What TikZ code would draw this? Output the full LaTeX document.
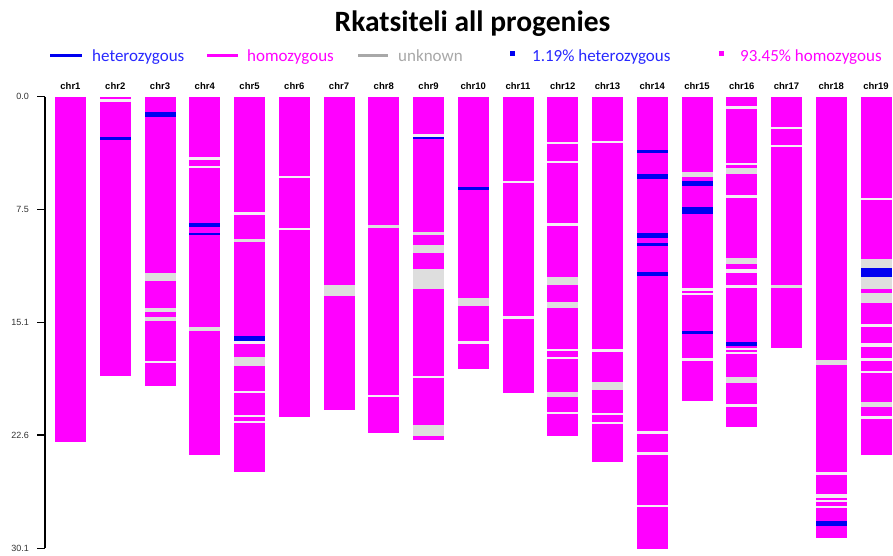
\documentclass[tikz,border=0pt]{standalone}
\usepackage{fontspec}
\setmainfont{Carlito}
\newfontfamily\chrfont{Liberation Sans}

\definecolor{homcol}{HTML}{FF00FF}
\definecolor{hetcol}{HTML}{0000F0}
\definecolor{hettxt}{HTML}{2828FF}
\definecolor{unkcol}{HTML}{DEDEDE}
\definecolor{unktxt}{HTML}{A8A8A8}
\definecolor{sepcol}{HTML}{F4EEF4}
\definecolor{axcol}{HTML}{333333}

\tikzset{
    hom/.style={fill=homcol},
    het/.style={fill=hetcol},
    unk/.style={fill=unkcol},
    sep/.style={fill=sepcol},
    chrlab/.style={
        font=\chrfont\bfseries\fontsize{9.5}{10}\selectfont,
        anchor=base,
        inner sep=0pt
    },
    ticklab/.style={
        font=\chrfont\fontsize{9}{10}\selectfont,
        text=axcol,
        anchor=east,
        inner sep=0pt
    },
    legtxt/.style={
        font=\fontsize{17}{18}\selectfont,
        anchor=base west,
        inner sep=0pt
    }
}

% one bar per chromosome, 0.0 at y=97
\newcommand{\chrbar}[2]{\fill[hom] ({55+(#1-1)*44.75},97) rectangle ({86+(#1-1)*44.75},#2);}
\newcommand{\chrband}[4]{\fill[#4] ({55+(#1-1)*44.75},#2) rectangle ({86+(#1-1)*44.75},#3);}

\begin{document}
\begin{tikzpicture}[x=1pt,y=-1pt]
\useasboundingbox[fill=white] (0,0) rectangle (893,555);

\node[font=\bfseries\fontsize{29.5}{30}\selectfont, anchor=base, inner sep=0pt]
    (title) at (472.5,31.7) {Rkatsiteli all progenies};

% legend
\draw[hetcol, line width=3pt] (50,55) -- (82,55);
\node[legtxt, text=hettxt] (lhet) at (92,61) {heterozygous};
\draw[homcol, line width=3pt] (207,55) -- (238,55);
\node[legtxt, text=homcol] (lhom) at (247,61) {homozygous};
\draw[unktxt, line width=3pt] (358,55) -- (388,55);
\node[legtxt, text=unktxt] (lunk) at (398,61) {unknown};
\fill[hetcol] (510,51) rectangle ++(5,5);
\node[legtxt, text=hettxt] (phet) at (532,61) {1.19\% heterozygous};
\fill[homcol] (719,51) rectangle ++(5,5);
\node[legtxt, text=homcol] (phom) at (740,61) {93.45\% homozygous};

% axis
\draw[line width=1.3pt] (45,96.7) -- (45,548.3);
\foreach \v/\yy in {0.0/96.7, 7.5/209.4, 15.1/322.3, 22.6/435.1, 30.1/548.3}{
    \draw[line width=1.3pt] (37,\yy) -- (45,\yy);
    \node[ticklab] at (29,\yy) {\v};
}

\foreach \i in {1,...,19}
    \node[chrlab] (chr\i) at ({70.5+(\i-1)*44.75},89.5) {chr\i};

% chr1
\chrbar{1}{441.7}
% chr2
\chrbar{2}{376}
\chrband{2}{99.3}{101.7}{sep}
\chrband{2}{137.3}{139.6}{het}
% chr3
\chrbar{3}{386}
\chrband{3}{112.3}{116.7}{het}
\chrband{3}{273.3}{281}{unk}
\chrband{3}{307.5}{312.3}{unk}
\chrband{3}{317.3}{321}{unk}
\chrband{3}{360.7}{363.3}{sep}
% chr4
\chrbar{4}{455}
\chrband{4}{157.3}{159.5}{sep}
\chrband{4}{166}{168}{sep}
\chrband{4}{222.7}{226.7}{het}
\chrband{4}{232.7}{235.3}{het}
\chrband{4}{327.3}{330.7}{unk}
% chr5
\chrbar{5}{472}
\chrband{5}{212}{214.7}{sep}
\chrband{5}{238.7}{242.3}{unk}
\chrband{5}{335.7}{340.7}{het}
\chrband{5}{340.7}{344}{sep}
\chrband{5}{357.3}{366}{unk}
\chrband{5}{391}{393.3}{sep}
\chrband{5}{415}{417.3}{sep}
\chrband{5}{420.7}{423.3}{sep}
% chr6
\chrbar{6}{417.3}
\chrband{6}{175.5}{177.5}{sep}
\chrband{6}{228}{230}{sep}
% chr7
\chrbar{7}{410.3}
\chrband{7}{285}{296}{unk}
% chr8
\chrbar{8}{433}
\chrband{8}{224.7}{227.7}{unk}
\chrband{8}{394.7}{396.7}{sep}
% chr9
\chrbar{9}{440}
\chrband{9}{134.3}{136.7}{sep}
\chrband{9}{136.7}{139.3}{het}
\chrband{9}{231.7}{235}{unk}
\chrband{9}{244.7}{253}{unk}
\chrband{9}{268.7}{289.3}{unk}
\chrband{9}{376}{378.3}{sep}
\chrband{9}{425.3}{436}{unk}
% chr10
\chrbar{10}{368.7}
\chrband{10}{187.3}{190}{het}
\chrband{10}{298.3}{306.3}{unk}
\chrband{10}{340.7}{343.7}{sep}
% chr11
\chrbar{11}{393}
\chrband{11}{180.7}{183.3}{sep}
\chrband{11}{316.2}{318.8}{sep}
% chr12
\chrbar{12}{436}
\chrband{12}{141.7}{144}{sep}
\chrband{12}{161}{163.3}{sep}
\chrband{12}{223.3}{226}{sep}
\chrband{12}{277.3}{285}{unk}
\chrband{12}{301.7}{307.7}{unk}
\chrband{12}{349}{351}{sep}
\chrband{12}{356.7}{358.7}{sep}
\chrband{12}{391.7}{397.3}{unk}
\chrband{12}{412.3}{414.3}{sep}
% chr13
\chrbar{13}{461.7}
\chrband{13}{141}{143.3}{sep}
\chrband{13}{349.3}{352.3}{sep}
\chrband{13}{382.3}{390}{unk}
\chrband{13}{413.3}{415.3}{sep}
\chrband{13}{421.7}{424}{sep}
% chr14
\chrbar{14}{549.3}
\chrband{14}{150}{152.7}{het}
\chrband{14}{174.3}{179.3}{het}
\chrband{14}{232.7}{238.3}{het}
\chrband{14}{243}{246}{het}
\chrband{14}{272.3}{276.3}{het}
\chrband{14}{431}{434}{sep}
\chrband{14}{452.3}{454.7}{sep}
\chrband{14}{505}{507.3}{sep}
% chr15
\chrbar{15}{401}
\chrband{15}{172.3}{177.3}{unk}
\chrband{15}{180.7}{185.7}{het}
\chrband{15}{207.3}{214.3}{het}
\chrband{15}{288.3}{291}{sep}
\chrband{15}{292.7}{295}{sep}
\chrband{15}{330.7}{334.3}{het}
\chrband{15}{358.3}{360.7}{sep}
% chr16
\chrbar{16}{427.3}
\chrband{16}{106}{109.3}{sep}
\chrband{16}{162.7}{165}{sep}
\chrband{16}{167.7}{174}{unk}
\chrband{16}{195}{198}{sep}
\chrband{16}{258.3}{264.3}{unk}
\chrband{16}{269.3}{272.7}{sep}
\chrband{16}{285}{288.3}{sep}
\chrband{16}{342.3}{345.7}{het}
\chrband{16}{348.3}{350}{sep}
\chrband{16}{352.3}{354.3}{sep}
\chrband{16}{376.7}{383.3}{unk}
\chrband{16}{404.3}{406.7}{sep}
% chr17
\chrbar{17}{348.3}
\chrband{17}{126.7}{129}{sep}
\chrband{17}{145}{146.7}{sep}
\chrband{17}{284.5}{288}{unk}
% chr18
\chrbar{18}{537.7}
\chrband{18}{360}{365}{unk}
\chrband{18}{472.3}{474.7}{sep}
\chrband{18}{494.3}{497.7}{sep}
\chrband{18}{500}{502.3}{sep}
\chrband{18}{505.7}{508.3}{sep}
\chrband{18}{520.7}{525.7}{het}
% chr19
\chrbar{19}{455}
\chrband{19}{197.7}{200}{sep}
\chrband{19}{259.3}{268.3}{unk}
\chrband{19}{268.3}{276.7}{het}
\chrband{19}{276.7}{289.3}{unk}
\chrband{19}{293.3}{302.7}{unk}
\chrband{19}{324}{326.7}{sep}
\chrband{19}{343.3}{346.7}{sep}
\chrband{19}{357.7}{360.7}{sep}
\chrband{19}{370.7}{373.3}{sep}
\chrband{19}{401.7}{407.3}{unk}
\chrband{19}{416}{419}{sep}
\end{tikzpicture}
\end{document}
